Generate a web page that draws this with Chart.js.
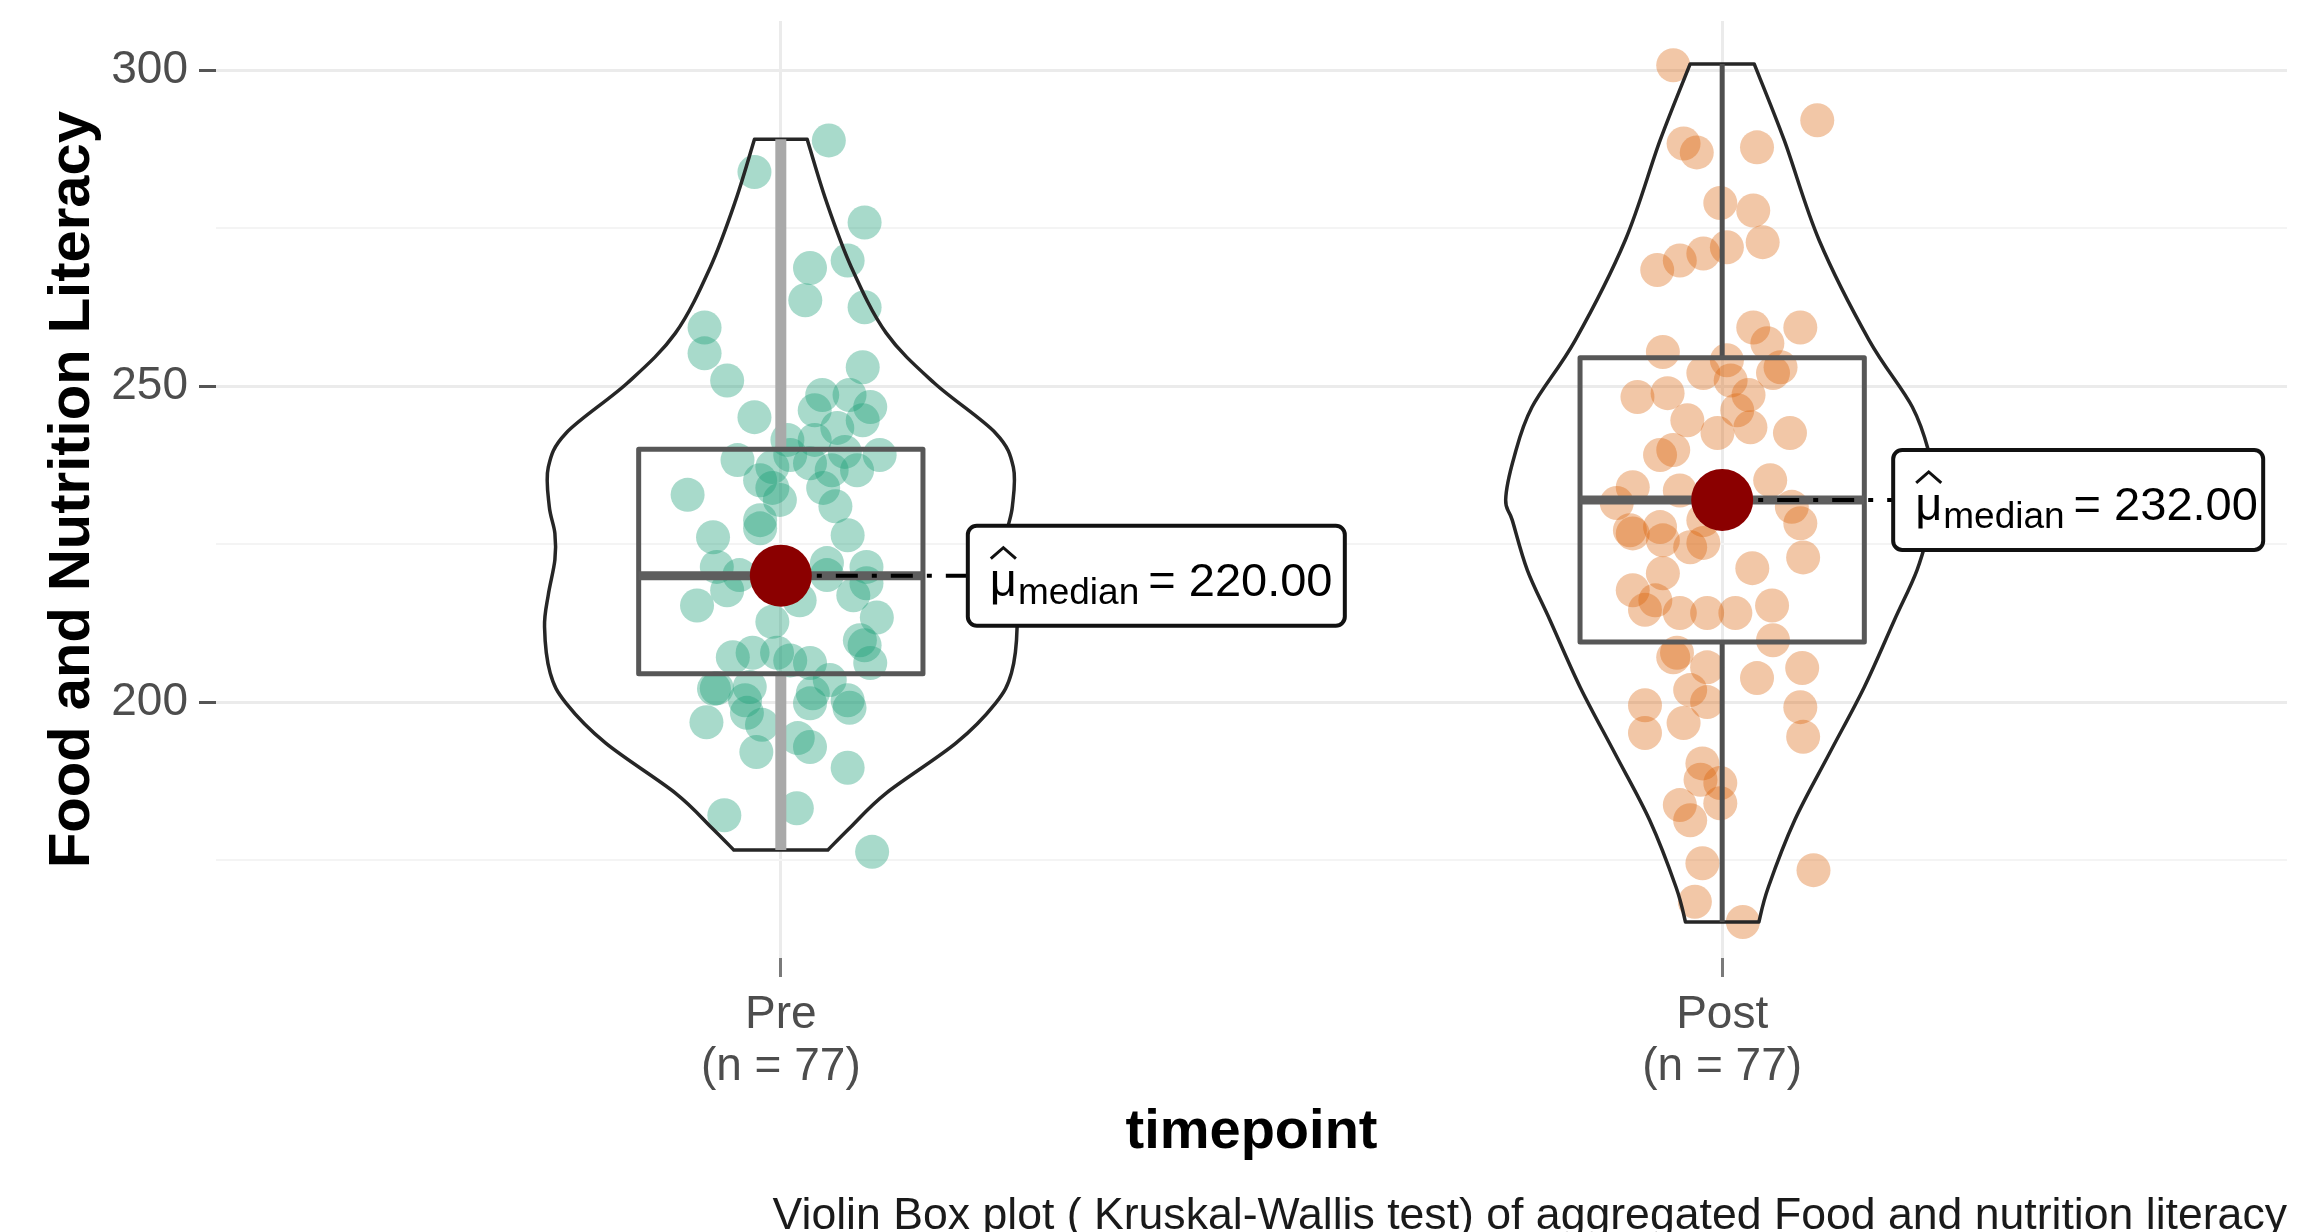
<!DOCTYPE html>
<html>
<head>
<meta charset="utf-8">
<script src="https://cdn.jsdelivr.net/npm/chart.js@4.4.1/dist/chart.umd.min.js"></script>
<style>
html,body{margin:0;padding:0;background:#ffffff;}
#wrap{width:2298px;height:1232px;position:relative;}
</style>
</head>
<body>
<div id="wrap"><canvas id="c"></canvas></div>
<script>
// ---------------- data ----------------
const categories = ['Pre', 'Post'];
const groupSizes = [77, 77];
const yTickValues = [175, 200, 225, 250, 275, 300];
const yTitle = 'Food and Nutrition Literacy';
const xTitle = 'timepoint';
const captionText = 'Violin Box plot ( Kruskal-Wallis test) of aggregated Food and nutrition literacy';

const preJitter = [0.051,-0.028,0.089,0.071,0.031,0.026,0.089,-0.081,-0.081,-0.057,
  0.087,0.044,0.095,-0.028,0.060,0.087,-0.046,-0.009,0.031,0.054,
  0.081,-0.099,-0.009,0.045,-0.072,-0.022,0.071,-0.068,0.049,0.091,
  -0.057,0.091,-0.009,0.102,0.084,-0.051,-0.030,-0.004,0.031,0.095,
  -0.068,-0.033,0.034,0.071,-0.079,-0.036,0.073,0.018,-0.026,0.071,
  0.017,-0.060,0.097,0.031,0.049,0.077,-0.044,0.020,0.010,-0.022,
  0.068,0.105,-0.001,0.036,0.007,0.058,-0.020,0.031,-0.071,0.089,
  -0.089,0.010,0.052,-0.022,0.036,0.073,-0.038];
const preValues = [288.9,283.9,275.9,269.9,268.7,263.6,262.5,259.3,255.2,250.9,
  253.0,248.6,246.7,245.1,243.4,244.6,238.3,237.2,237.8,236.7,
  236.7,232.8,233.9,233.9,226.1,227.5,226.4,221.4,222.0,221.4,
  217.7,218.8,212.7,213.4,209.8,207.1,207.8,207.8,206.2,206.2,
  202.2,202.4,201.4,200.3,196.8,198.3,199.1,194.3,192.1,189.6,
  183.2,182.1,176.3,199.8,220.1,216.9,220.1,216.1,239.1,235.1,
  239.6,239.1,232.0,241.5,241.5,231.0,196.4,192.9,202.1,209.0,
  215.3,206.6,203.5,228.8,246.2,248.6,200.3];

const postJitter = [-0.052,0.101,-0.041,-0.027,0.037,-0.002,0.033,0.043,-0.069,-0.045,
  -0.020,0.005,0.033,0.083,0.048,-0.063,0.005,0.062,0.009,-0.090,
  -0.058,-0.037,0.016,0.030,0.072,-0.052,-0.005,-0.095,-0.045,0.051,
  0.083,-0.098,-0.066,-0.095,-0.063,-0.020,0.086,0.032,-0.063,-0.095,
  -0.082,-0.045,-0.016,0.014,0.053,0.054,-0.048,-0.016,0.037,0.085,
  -0.082,-0.041,-0.016,0.083,-0.082,0.086,-0.021,-0.002,-0.045,-0.002,
  -0.021,0.097,-0.029,0.022,0.054,-0.020,-0.112,-0.020,-0.034,0.074,
  -0.071,-0.052,0.028,-0.066,-0.034,-0.023,-0.034];
const postValues = [300.8,292.1,288.4,287.0,287.8,279.0,277.8,272.8,268.4,269.9,
  271.0,272.0,259.3,259.3,256.8,255.4,254.1,253.0,250.9,248.3,
  248.9,244.6,246.2,243.5,242.6,239.9,242.6,234.0,233.5,235.1,
  228.3,227.2,227.7,226.7,225.6,225.2,222.9,221.2,220.4,217.7,
  214.6,214.1,214.1,214.1,215.3,209.8,207.8,205.5,203.8,205.4,
  199.5,196.7,200.0,199.2,195.1,194.5,190.3,187.2,183.7,184.0,
  174.5,173.4,168.4,165.2,252.1,252.1,231.5,228.8,224.5,230.9,
  216.1,207.1,248.6,239.1,201.9,187.7,181.3];

const medians = [220.0, 232.0];
// box statistics: [lower whisker, Q1, median, Q3, upper whisker]
const preBox = [176.6, 204.5, 220.0, 240.0, 289.1];
const postBox = [165.2, 209.5, 232.0, 254.5, 301.0];

// violin outline: density levels (values) and half widths (in category units)
const preViolinLevels = [289.1,279.4,268.8,258.4,250.5,242.6,237.2,231.0,226.7,222.5,217.0,211.9,204.6,199.8,193.5,185.6,180.2,176.6];
const preViolinHalfWidths = [0.028,0.048,0.075,0.112,0.163,0.228,0.247,0.246,0.240,0.240,0.247,0.251,0.245,0.228,0.186,0.112,0.074,0.050];
const postViolinLevels = [301.0,288.9,273.1,257.3,246.7,238.8,232.0,228.8,220.9,213.0,202.4,191.9,181.3,170.7,165.2];
const postViolinHalfWidths = [0.034,0.066,0.103,0.156,0.202,0.221,0.230,0.223,0.207,0.183,0.151,0.114,0.077,0.049,0.039];

// ---------------- drawing ----------------
const FONT = '"Liberation Sans", Arial, Helvetica, sans-serif';
const groups = [
  {box: preBox, levels: preViolinLevels, hw: preViolinHalfWidths},
  {box: postBox, levels: postViolinLevels, hw: postViolinHalfWidths}
];

function smoothThrough(ctx, pts) {
  for (let i = 0; i < pts.length - 1; i++) {
    const p0 = pts[i - 1] || pts[i], p1 = pts[i], p2 = pts[i + 1], p3 = pts[i + 2] || pts[i + 1];
    ctx.bezierCurveTo(p1.x + (p2.x - p0.x) / 6, p1.y + (p2.y - p0.y) / 6,
                      p2.x - (p3.x - p1.x) / 6, p2.y - (p3.y - p1.y) / 6, p2.x, p2.y);
  }
}

function zeroPadding(s) {
  s.paddingTop = 0; s.paddingBottom = 0; s.paddingLeft = 0; s.paddingRight = 0;
}

const violinBoxPlugin = {
  id: 'violinBox',
  beforeDatasetDraw(chart, args, opts) {
    if (chart.data.datasets[args.index].label !== 'median') return;
    const ctx = chart.ctx, xs = chart.scales.x, ys = chart.scales.y;
    ctx.save();
    groups.forEach((g, gi) => {
      const cx = xs.getPixelForValue(gi + 1);
      const unit = xs.getPixelForValue(gi + 2) - cx;
      const st = opts.styles[gi];
      // violin
      const R = g.levels.map((v, i) => ({x: cx + g.hw[i] * unit, y: ys.getPixelForValue(v)}));
      const L = g.levels.map((v, i) => ({x: cx - g.hw[i] * unit, y: ys.getPixelForValue(v)})).reverse();
      ctx.beginPath();
      ctx.moveTo(L[L.length - 1].x, L[L.length - 1].y);
      ctx.lineTo(R[0].x, R[0].y);
      smoothThrough(ctx, R);
      ctx.lineTo(L[0].x, L[0].y);
      smoothThrough(ctx, L);
      ctx.closePath();
      ctx.lineWidth = 3.5;
      ctx.strokeStyle = '#262626';
      ctx.lineJoin = 'round';
      ctx.stroke();
      // whiskers
      const [wmin, q1, med, q3, wmax] = g.box.map(v => ys.getPixelForValue(v));
      ctx.strokeStyle = st.whisker;
      ctx.lineWidth = st.whiskerWidth;
      ctx.lineCap = 'butt';
      ctx.beginPath();
      ctx.moveTo(cx, q3); ctx.lineTo(cx, wmax);
      ctx.moveTo(cx, q1); ctx.lineTo(cx, wmin);
      ctx.stroke();
      // box
      const bw = opts.boxHalfWidth * unit;
      ctx.strokeStyle = '#575757';
      ctx.lineWidth = 5;
      ctx.strokeRect(cx - bw, q3, 2 * bw, q1 - q3);
      ctx.lineWidth = 9;
      ctx.strokeStyle = '#5e5e5e';
      ctx.beginPath();
      ctx.moveTo(cx - bw, med); ctx.lineTo(cx + bw, med);
      ctx.stroke();
      // connector to label
      const my = ys.getPixelForValue(medians[gi]);
      ctx.strokeStyle = '#000000';
      ctx.lineWidth = 4;
      ctx.setLineDash([22, 14, 5, 14]);
      ctx.beginPath();
      ctx.moveTo(cx, my); ctx.lineTo(cx + opts.labelOffset[gi], my);
      ctx.stroke();
      ctx.setLineDash([]);
    });
    ctx.restore();
  },
  afterDatasetsDraw(chart, args, opts) {
    const ctx = chart.ctx, xs = chart.scales.x, ys = chart.scales.y;
    ctx.save();
    medians.forEach((m, gi) => {
      const cx = xs.getPixelForValue(gi + 1);
      const my = ys.getPixelForValue(m);
      const left = cx + opts.labelOffset[gi];
      const w = opts.labelWidth[gi], h = 100;
      const top = my - h / 2;
      ctx.beginPath();
      ctx.roundRect(left, top, w, h, 9);
      ctx.fillStyle = '#ffffff';
      ctx.fill();
      ctx.lineWidth = 4;
      ctx.strokeStyle = '#111111';
      ctx.stroke();
      // text: mu-hat with subscript "median" = value
      const base = my + 20;
      let x = left + 22;
      ctx.fillStyle = '#000000';
      ctx.textBaseline = 'alphabetic';
      ctx.textAlign = 'left';
      ctx.font = '47px ' + FONT;
      ctx.fillText('\u03bc', x, base);
      const muW = ctx.measureText('\u03bc').width;
      // hat
      ctx.beginPath();
      ctx.lineWidth = 3;
      ctx.moveTo(x + 1, base - 37);
      ctx.lineTo(x + muW / 2, base - 48);
      ctx.lineTo(x + muW - 1, base - 37);
      ctx.stroke();
      x += muW + 1;
      ctx.font = '37px ' + FONT;
      ctx.fillText('median', x, my + 28);
      x += ctx.measureText('median').width + 9;
      ctx.font = '47px ' + FONT;
      ctx.fillText('= ' + m.toFixed(2), x, base);
    });
    ctx.restore();
  }
};

new Chart(document.getElementById('c'), {
  type: 'scatter',
  data: {
    datasets: [
      {label: 'median', data: medians.map((m, i) => ({x: i + 1, y: m})),
       pointRadius: 31, pointHoverRadius: 31, backgroundColor: '#8b0000', borderWidth: 0, order: 0},
      {label: 'Pre', data: preValues.map((v, i) => ({x: 1 + preJitter[i], y: v})),
       pointRadius: 17, pointHoverRadius: 17, backgroundColor: 'rgba(27,158,119,0.38)', borderWidth: 0, order: 1},
      {label: 'Post', data: postValues.map((v, i) => ({x: 2 + postJitter[i], y: v})),
       pointRadius: 17, pointHoverRadius: 17, backgroundColor: 'rgba(217,95,2,0.35)', borderWidth: 0, order: 2}
    ]
  },
  options: {
    responsive: true,
    maintainAspectRatio: false,
    animation: false,
    devicePixelRatio: 1,
    events: [],
    layout: {autoPadding: false, padding: {top: 21, right: 11, left: 0, bottom: 0}},
    plugins: {
      legend: {display: false},
      tooltip: {enabled: false},
      title: {display: true, text: captionText, position: 'bottom', align: 'end', color: '#1a1a1a',
              font: {family: FONT, size: 44.6, weight: 'normal', lineHeight: 0.7}, padding: 0},
      violinBox: {
        styles: [{whisker: '#a9a9a9', whiskerWidth: 11}, {whisker: '#4f4f4f', whiskerWidth: 5}],
        boxHalfWidth: 0.151,
        labelOffset: [187, 171],
        labelWidth: [377, 370]
      }
    },
    scales: {
      x: {
        type: 'linear', min: 0.4, max: 2.6,
        afterBuildTicks: s => { s.ticks = categories.map((c, i) => ({value: i + 1})); },
        afterFit: s => { s.height = 242.8; zeroPadding(s); },
        ticks: {
          callback: v => [categories[v - 1], '(n = ' + groupSizes[v - 1] + ')'],
          font: {family: FONT, size: 46, lineHeight: 1.13}, color: '#4d4d4d',
          padding: 12, maxRotation: 0, autoSkip: false
        },
        grid: {color: '#ebebeb', lineWidth: 3, tickLength: 19, tickColor: '#7a7a7a', tickWidth: 3},
        border: {display: false},
        title: {display: true, text: xTitle, color: '#000000',
                font: {family: FONT, size: 56, weight: 'bold', lineHeight: 1.2}, padding: {top: 0, bottom: 35}}
      },
      y: {
        min: 159.5, max: 307.8,
        afterBuildTicks: s => { s.ticks = yTickValues.map(v => ({value: v})); },
        afterFit: s => { s.width = 216; zeroPadding(s); },
        ticks: {
          callback: v => (v % 50 === 0 ? String(v) : ''),
          font: {family: FONT, size: 46}, color: '#4d4d4d', padding: 11, autoSkip: false
        },
        grid: {
          color: c => (c.tick && c.tick.value % 50 === 0 ? '#ebebeb' : '#f4f4f4'),
          lineWidth: c => (c.tick && c.tick.value % 50 === 0 ? 3 : 2),
          tickLength: 17,
          tickColor: c => (c.tick && c.tick.value % 50 === 0 ? '#555555' : 'rgba(0,0,0,0)'),
          tickWidth: 3
        },
        border: {display: false},
        title: {display: true, text: yTitle, color: '#000000',
                font: {family: FONT, size: 58, weight: 'bold', lineHeight: 1.2}, padding: {top: 38, bottom: 0}}
      }
    }
  },
  plugins: [violinBoxPlugin]
});
</script>
</body>
</html>
